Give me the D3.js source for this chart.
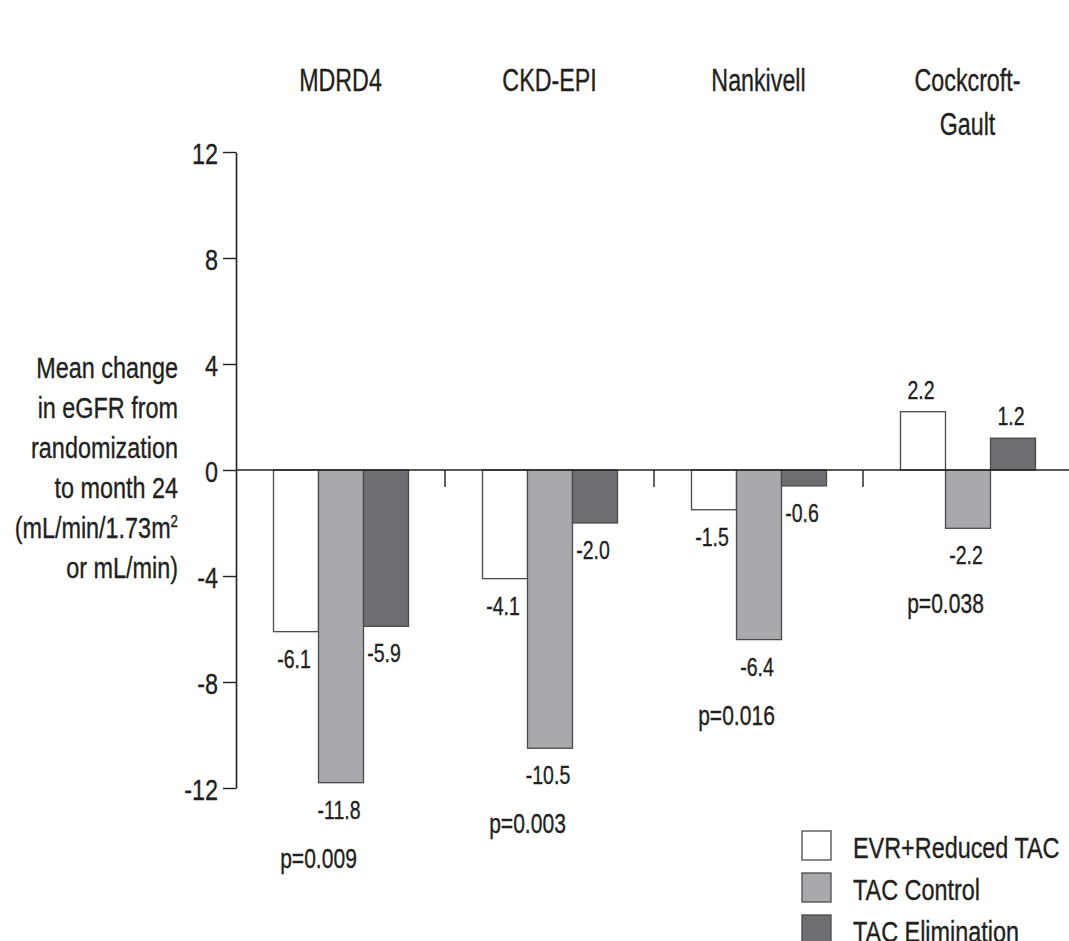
<!DOCTYPE html>
<html>
<head>
<meta charset="utf-8">
<script src="https://cdn.jsdelivr.net/npm/d3@7"></script>
<style>
  html, body { margin: 0; padding: 0; background: #fff; }
  svg { display: block; }
  text { font-family: "Liberation Sans", Arial, Helvetica, sans-serif; fill: #231f20; stroke: #231f20; stroke-width: 0.35px; }
</style>
</head>
<body>
<svg id="chart" width="1069" height="941"></svg>
<script>
// ---- Data ----
const categories = ["MDRD4", "CKD-EPI", "Nankivell", "Cockcroft-Gault"];
const categoryLabels = [["MDRD4"], ["CKD-EPI"], ["Nankivell"], ["Cockcroft-", "Gault"]];
const seriesNames = ["EVR+Reduced TAC", "TAC Control", "TAC Elimination"];
const evrReducedTac = [-6.1, -4.1, -1.5, 2.2];
const tacControl = [-11.8, -10.5, -6.4, -2.2];
const tacElimination = [-5.9, -2.0, -0.6, 1.2];
const pValues = ["p=0.009", "p=0.003", "p=0.016", "p=0.038"];
const yTicks = [-12, -8, -4, 0, 4, 8, 12];
const yTitleLines = ["Mean change", "in eGFR from", "randomization", "to month 24", "(mL/min/1.73m", "or mL/min)"];

const seriesValues = [evrReducedTac, tacControl, tacElimination];
const colors = ["#ffffff", "#a7a9ac", "#6d6e71"];
const strokeCol = "#4a4a4c";
const SX = 0.78; // horizontal condensing of the font

const svg = d3.select("#chart");

const y = d3.scaleLinear().domain([-12, 12]).range([788, 152]);
const x = d3.scaleBand().domain(categories).range([236, 1072]).paddingInner(0).paddingOuter(0);
const xs = d3.scaleBand().domain(seriesNames).range([37.5, 172.5]);

function txt(parent, px, py, str, size, anchor, sx) {
  return parent.append("text")
    .attr("transform", `translate(${px},${py}) scale(${sx || SX},1)`)
    .attr("text-anchor", anchor || "middle")
    .style("font-size", size + "px")
    .text(str);
}

// ---- Bars ----
const rows = [];
categories.forEach((c, i) => {
  seriesNames.forEach((s, j) => rows.push({ c, s, j, v: seriesValues[j][i] }));
});

svg.append("g").selectAll("rect").data(rows).join("rect")
  .attr("x", d => x(d.c) + xs(d.s))
  .attr("width", xs.bandwidth())
  .attr("y", d => Math.min(y(d.v), y(0)))
  .attr("height", d => Math.abs(y(d.v) - y(0)))
  .attr("fill", d => colors[d.j])
  .attr("stroke", strokeCol)
  .attr("stroke-width", 1.3);

// ---- Value labels ----
const lbl = svg.append("g");
rows.forEach(d => {
  const cx = x(d.c) + xs(d.s) + xs.bandwidth() / 2 - 2;
  const py = d.v < 0 ? y(d.v) + 36 : y(d.v) - 13;
  txt(lbl, cx, py, d.v.toFixed(1), 25, "middle");
});

// ---- p-values ----
categories.forEach((c, i) => {
  const lowest = d3.min(seriesValues, arr => arr[i]);
  const base = (lowest < 0 ? y(lowest) + 36 : y(0) + 36) + 49;
  const cx = x(c) + (xs(seriesNames[0]) + xs(seriesNames[1]) + xs.bandwidth()) / 2;
  txt(lbl, cx, base, pValues[i], 27, "middle");
});

// ---- Zero line & category separators ----
svg.append("line")
  .attr("x1", 236).attr("x2", 1069)
  .attr("y1", y(0)).attr("y2", y(0))
  .attr("stroke", "#231f20").attr("stroke-width", 1.6);

svg.append("g").selectAll("line").data(categories.slice(1)).join("line")
  .attr("x1", d => x(d)).attr("x2", d => x(d))
  .attr("y1", y(0)).attr("y2", y(0) + 17)
  .attr("stroke", "#231f20").attr("stroke-width", 1.4);

// ---- Y axis ----
const axis = d3.axisLeft(y).tickValues(yTicks).tickSize(13).tickSizeOuter(0).tickPadding(5)
  .tickFormat(d => String(d));
const gAxis = svg.append("g").attr("transform", "translate(236,0)").call(axis);
gAxis.select(".domain").attr("stroke", "#231f20").attr("stroke-width", 1.6);
gAxis.selectAll(".tick line").attr("stroke", "#231f20").attr("stroke-width", 1.4);
gAxis.selectAll(".tick text")
  .attr("x", null).attr("dy", null)
  .style("font-size", "30px")
  .style("font-family", "'Liberation Sans', Arial, sans-serif")
  .attr("fill", "#231f20")
  .attr("text-anchor", "end")
  .attr("transform", `translate(-18,11) scale(${SX},1)`);

// ---- Y title ----
const gTitle = svg.append("g");
yTitleLines.forEach((line, i) => {
  const t = txt(gTitle, 178, 378 + i * 40, line, 30, "end");
  if (line === "(mL/min/1.73m") {
    t.append("tspan").attr("dy", -11).style("font-size", "17px").text("2");
  }
});

// ---- Category labels ----
const gCat = svg.append("g");
categories.forEach((c, i) => {
  categoryLabels[i].forEach((ln, k) => {
    txt(gCat, x(c) + x.bandwidth() / 2, 91 + k * 44, ln, 31, "middle", 0.75);
  });
});

// ---- Legend ----
const gLeg = svg.append("g");
seriesNames.forEach((s, j) => {
  gLeg.append("rect")
    .attr("x", 802).attr("y", 831 + j * 42)
    .attr("width", 29).attr("height", 29)
    .attr("fill", colors[j]).attr("stroke", strokeCol).attr("stroke-width", 1.3);
  txt(gLeg, 853, 858 + j * 42, s, 30, "start");
});
</script>
</body>
</html>
